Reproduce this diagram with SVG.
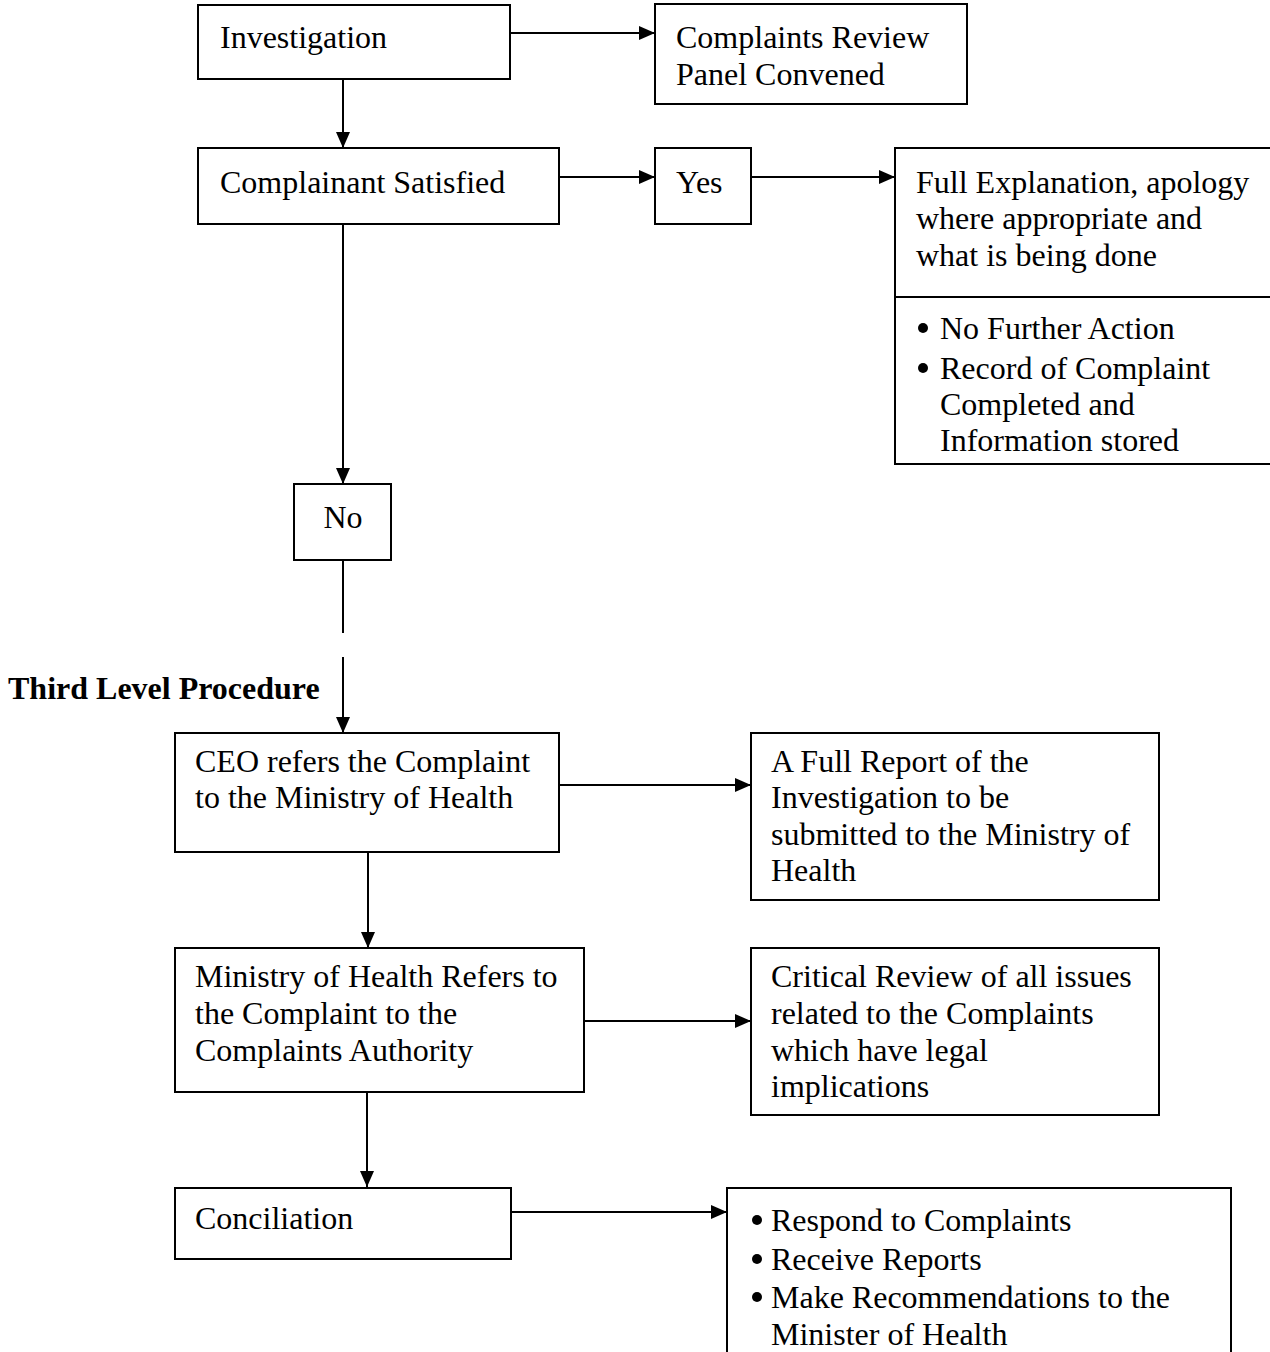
<svg xmlns="http://www.w3.org/2000/svg" width="1270" height="1352" viewBox="0 0 1270 1352">
<style>
rect.box{fill:#fff;stroke:#000;stroke-width:2}
text{font-family:"Liberation Serif","Times New Roman",serif;font-size:32px;fill:#000}
.bold{font-weight:bold}
.con line{stroke:#000;stroke-width:2}
circle.bul{fill:#000}
</style>
<defs>
<marker id="ah" markerUnits="userSpaceOnUse" markerWidth="16" markerHeight="14" viewBox="0 0 16 14" refX="16" refY="7" orient="auto">
<path d="M0,0 L16,7 L0,14 z" fill="#000"/>
</marker>
</defs>
<rect width="1270" height="1352" fill="#fff"/>
<g class="con">
<line x1="510" y1="33" x2="655" y2="33" marker-end="url(#ah)"/>
<line x1="343" y1="79" x2="343" y2="148" marker-end="url(#ah)"/>
<line x1="559" y1="177" x2="655" y2="177" marker-end="url(#ah)"/>
<line x1="751" y1="177" x2="895" y2="177" marker-end="url(#ah)"/>
<line x1="343" y1="224" x2="343" y2="484" marker-end="url(#ah)"/>
<line x1="343" y1="560" x2="343" y2="633"/>
<line x1="343" y1="657" x2="343" y2="733" marker-end="url(#ah)"/>
<line x1="559" y1="785" x2="751" y2="785" marker-end="url(#ah)"/>
<line x1="368" y1="852" x2="368" y2="948" marker-end="url(#ah)"/>
<line x1="584" y1="1021" x2="751" y2="1021" marker-end="url(#ah)"/>
<line x1="367" y1="1092" x2="367" y2="1187" marker-end="url(#ah)"/>
<line x1="511" y1="1212" x2="727" y2="1212" marker-end="url(#ah)"/>
</g>
<g id="investigation">
<rect class="box" x="198" y="5" width="312" height="74"/>
<text x="220" y="48">Investigation</text>
</g>
<g id="review-panel">
<rect class="box" x="655" y="4" width="312" height="100"/>
<text x="676" y="48">Complaints Review</text>
<text x="676" y="85">Panel Convened</text>
</g>
<g id="satisfied">
<rect class="box" x="198" y="148" width="361" height="76"/>
<text x="220" y="193">Complainant Satisfied</text>
</g>
<g id="yes">
<rect class="box" x="655" y="148" width="96" height="76"/>
<text x="676" y="193">Yes</text>
</g>
<g id="full-explanation">
<rect class="box" x="895" y="148" width="390" height="316"/>
<line x1="895" y1="297" x2="1272" y2="297" stroke="#000" stroke-width="2"/>
<text x="916" y="193">Full Explanation, apology</text>
<text x="916" y="229">where appropriate and</text>
<text x="916" y="266">what is being done</text>
<circle class="bul" cx="923" cy="328" r="5"/><text x="940" y="339">No Further Action</text>
<circle class="bul" cx="923" cy="368" r="5"/><text x="940" y="379">Record of Complaint</text>
<text x="940" y="415">Completed and</text>
<text x="940" y="451">Information stored</text>
</g>
<g id="no">
<rect class="box" x="294" y="484" width="97" height="76"/>
<text x="343" y="528" text-anchor="middle">No</text>
</g>
<g id="third-level">
<text class="bold" x="8" y="699">Third Level Procedure</text>
</g>
<g id="ceo">
<rect class="box" x="175" y="733" width="384" height="119"/>
<text x="195" y="772">CEO refers the Complaint</text>
<text x="195" y="808">to the Ministry of Health</text>
</g>
<g id="full-report">
<rect class="box" x="751" y="733" width="408" height="167"/>
<text x="771" y="772">A Full Report of the</text>
<text x="771" y="808">Investigation to be</text>
<text x="771" y="845">submitted to the Ministry of</text>
<text x="771" y="881">Health</text>
</g>
<g id="ministry">
<rect class="box" x="175" y="948" width="409" height="144"/>
<text x="195" y="987">Ministry of Health Refers to</text>
<text x="195" y="1024">the Complaint to the</text>
<text x="195" y="1061">Complaints Authority</text>
</g>
<g id="critical-review">
<rect class="box" x="751" y="948" width="408" height="167"/>
<text x="771" y="987">Critical Review of all issues</text>
<text x="771" y="1024">related to the Complaints</text>
<text x="771" y="1061">which have legal</text>
<text x="771" y="1097">implications</text>
</g>
<g id="conciliation">
<rect class="box" x="175" y="1188" width="336" height="71"/>
<text x="195" y="1229">Conciliation</text>
</g>
<g id="authority-tasks">
<rect class="box" x="727" y="1188" width="504" height="200"/>
<circle class="bul" cx="757" cy="1220" r="5"/><text x="771" y="1231">Respond to Complaints</text>
<circle class="bul" cx="757" cy="1259" r="5"/><text x="771" y="1270">Receive Reports</text>
<circle class="bul" cx="757" cy="1297" r="5"/><text x="771" y="1308">Make Recommendations to the</text>
<text x="771" y="1345">Minister of Health</text>
</g>
</svg>
